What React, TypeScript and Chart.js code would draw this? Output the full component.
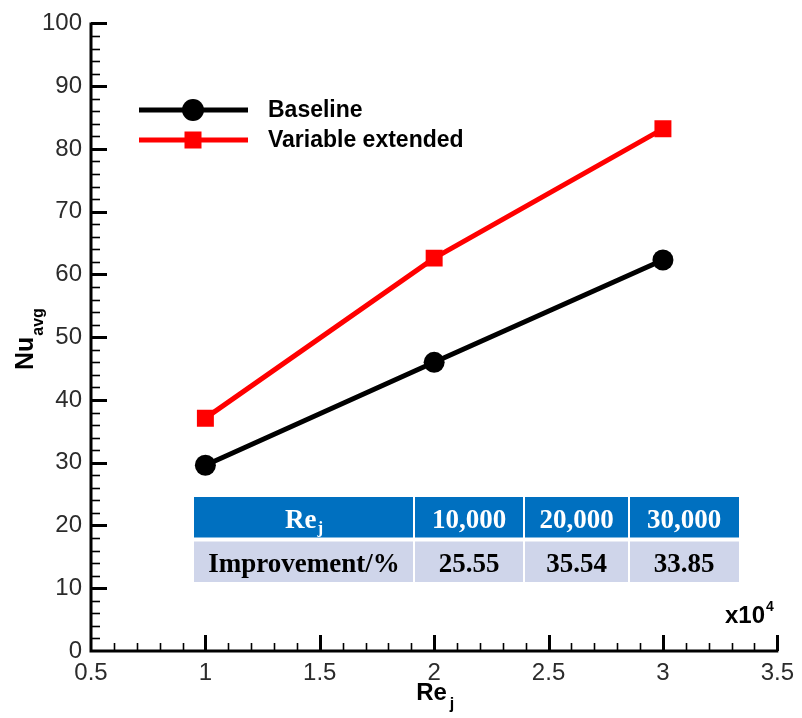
import React, { useEffect, useRef } from "react";
import { Chart, registerables } from "chart.js";

Chart.register(...registerables);

// ---- data ----
const reValues = [1, 2, 3]; // Re_j, x10^4
const baselineNu = [29.6, 46.0, 62.3];
const variableExtendedNu = [37.1, 62.6, 83.2];
const seriesNames = ["Baseline", "Variable extended"];
const tableHeader = ["10,000", "20,000", "30,000"];
const tableImprovement = ["25.55", "35.54", "33.85"];
const xMin = 0.5;
const xMax = 3.5;
const yMin = 0;
const yMax = 100;

const SANS = "'Liberation Sans', Arial, sans-serif";
const SERIF = "'Liberation Serif', 'Times New Roman', serif";

const decorPlugin = {
  id: "decor",
  afterDraw(chart: any) {
    const ctx = chart.ctx as CanvasRenderingContext2D;
    const area = chart.chartArea;
    const xs = chart.scales.x;
    const ys = chart.scales.y;
    ctx.save();
    ctx.strokeStyle = "#000";
    ctx.lineCap = "butt";

    // inward ticks on y axis
    for (let i = 0; i <= 50; i++) {
      const v = yMin + i * 2;
      if (v === yMin) continue;
      const major = i % 5 === 0;
      const py = Math.round(ys.getPixelForValue(v)) + 0.5;
      ctx.lineWidth = major ? 3 : 1.6;
      ctx.beginPath();
      ctx.moveTo(area.left, py);
      ctx.lineTo(area.left + (major ? 16 : 9), py);
      ctx.stroke();
    }
    // inward ticks on x axis
    for (let i = 0; i <= 30; i++) {
      if (i === 0) continue;
      const v = xMin + i * 0.1;
      const major = i % 5 === 0;
      const px = Math.round(xs.getPixelForValue(v)) + 0.5;
      ctx.lineWidth = major ? 3 : 1.6;
      ctx.beginPath();
      ctx.moveTo(px, area.bottom);
      ctx.lineTo(px, area.bottom - (major ? 16 : 8));
      ctx.stroke();
    }
    // axis lines
    ctx.lineWidth = 3;
    ctx.beginPath();
    ctx.moveTo(area.left, area.top - 1);
    ctx.lineTo(area.left, area.bottom);
    ctx.lineTo(area.right + 1, area.bottom);
    ctx.stroke();

    // axis titles
    ctx.fillStyle = "#000";
    ctx.textBaseline = "alphabetic";
    ctx.textAlign = "left";
    // y title Nu_avg (rotated)
    ctx.save();
    ctx.translate(33, 370);
    ctx.rotate(-Math.PI / 2);
    ctx.font = `bold 25px ${SANS}`;
    ctx.fillText("Nu", 0, 0);
    const nuW = ctx.measureText("Nu").width;
    ctx.font = `bold 16px ${SANS}`;
    ctx.fillText("avg", nuW + 1, 10);
    ctx.restore();
    // x title Re_j
    ctx.font = `bold 24px ${SANS}`;
    const reW = ctx.measureText("Re").width;
    const reX = (area.left + area.right) / 2 - 18;
    ctx.fillText("Re", reX, 700);
    ctx.font = `bold 16px ${SANS}`;
    ctx.fillText("j", reX + reW + 3, 709);
    // x10^4 multiplier
    ctx.font = `bold 24px ${SANS}`;
    ctx.fillText("x10", 725, 623);
    const mW = ctx.measureText("x10").width;
    ctx.font = `bold 14px ${SANS}`;
    ctx.fillText("4", 725 + mW + 1, 611);

    // legend
    const legendItems = [
      { y: 110, color: "#000", style: "circle" },
      { y: 140, color: "#ff0000", style: "rect" },
    ];
    legendItems.forEach((it, i) => {
      ctx.strokeStyle = it.color;
      ctx.fillStyle = it.color;
      ctx.lineWidth = 5;
      ctx.beginPath();
      ctx.moveTo(139, it.y);
      ctx.lineTo(248, it.y);
      ctx.stroke();
      if (it.style === "circle") {
        ctx.beginPath();
        ctx.arc(193, it.y, 11, 0, Math.PI * 2);
        ctx.fill();
      } else {
        ctx.fillRect(193 - 8.5, it.y - 8.5, 17, 17);
      }
      ctx.fillStyle = "#000";
      ctx.font = `bold 23px ${SANS}`;
      ctx.textBaseline = "middle";
      ctx.fillText(seriesNames[i], 268, it.y + 1);
    });

    // table
    const cols = [194, 414, 524, 629, 739];
    const rows = [497, 539.5, 582];
    const headerColor = "#0070c0";
    const bodyColor = "#cfd5ea";
    for (let r = 0; r < 2; r++) {
      for (let c = 0; c < 4; c++) {
        const x0 = cols[c] + (c === 0 ? 0 : 1);
        const x1 = cols[c + 1] - (c === 3 ? 0 : 1);
        const y0 = rows[r] + (r === 0 ? 0 : 2);
        const y1 = rows[r + 1] - (r === 1 ? 0 : 2);
        ctx.fillStyle = r === 0 ? headerColor : bodyColor;
        ctx.fillRect(x0, y0, x1 - x0, y1 - y0);
      }
    }
    ctx.textBaseline = "alphabetic";
    // header row
    ctx.fillStyle = "#fff";
    const hBase = 528;
    ctx.font = `bold 27px ${SERIF}`;
    const rw = ctx.measureText("Re").width;
    ctx.font = `bold 17px ${SERIF}`;
    const jw = ctx.measureText("j").width;
    const c0 = (cols[0] + cols[1]) / 2;
    ctx.textAlign = "left";
    ctx.font = `bold 27px ${SERIF}`;
    ctx.fillText("Re", c0 - (rw + jw + 1) / 2, hBase);
    ctx.font = `bold 17px ${SERIF}`;
    ctx.fillText("j", c0 - (rw + jw + 1) / 2 + rw + 1, hBase + 5);
    ctx.textAlign = "center";
    ctx.font = `bold 27px ${SERIF}`;
    tableHeader.forEach((t, i) => {
      ctx.fillText(t, (cols[i + 1] + cols[i + 2]) / 2, hBase);
    });
    // body row
    ctx.fillStyle = "#000";
    const bBase = 572;
    ctx.fillText("Improvement/%", c0, bBase);
    tableImprovement.forEach((t, i) => {
      ctx.fillText(t, (cols[i + 1] + cols[i + 2]) / 2, bBase);
    });

    ctx.restore();
  },
};

export default function App() {
  const ref = useRef<HTMLCanvasElement | null>(null);

  useEffect(() => {
    document.body.style.margin = "0";
    if (!ref.current) return;
    const chart = new Chart(ref.current, {
      type: "line",
      data: {
        datasets: [
          {
            label: seriesNames[0],
            data: reValues.map((x, i) => ({ x, y: baselineNu[i] })),
            borderColor: "#000",
            backgroundColor: "#000",
            borderWidth: 5,
            pointStyle: "circle",
            pointRadius: 10.5,
            pointBorderWidth: 0,
            tension: 0,
          },
          {
            label: seriesNames[1],
            data: reValues.map((x, i) => ({ x, y: variableExtendedNu[i] })),
            borderColor: "#ff0000",
            backgroundColor: "#ff0000",
            borderWidth: 5,
            pointStyle: "rect",
            pointRadius: 12,
            pointBorderWidth: 0,
            tension: 0,
          },
        ],
      },
      options: {
        responsive: false,
        animation: false,
        layout: { padding: { left: 0, right: 20, top: 21, bottom: 0 } },
        plugins: {
          legend: { display: false },
          tooltip: { enabled: false },
        },
        scales: {
          x: {
            type: "linear",
            min: xMin,
            max: xMax,
            grid: { display: false, drawTicks: false },
            border: { display: false },
            ticks: {
              stepSize: 0.5,
              autoSkip: false,
              maxRotation: 0,
              padding: 8,
              color: "#2b2b2b",
              font: { family: SANS, size: 24 },
              callback: (v: any) => String(Math.round(Number(v) * 10) / 10),
            },
            afterFit: (s: any) => {
              s.height = 67;
            },
          },
          y: {
            type: "linear",
            min: yMin,
            max: yMax,
            grid: { display: false, drawTicks: false },
            border: { display: false },
            ticks: {
              stepSize: 10,
              autoSkip: false,
              padding: 9,
              color: "#2b2b2b",
              font: { family: SANS, size: 24 },
            },
            afterFit: (s: any) => {
              s.width = 91;
            },
          },
        },
      },
      plugins: [decorPlugin],
    });
    return () => chart.destroy();
  }, []);

  return (
    <canvas
      ref={ref}
      width={802}
      height={718}
      style={{ display: "block", width: 802, height: 718 }}
    />
  );
}
